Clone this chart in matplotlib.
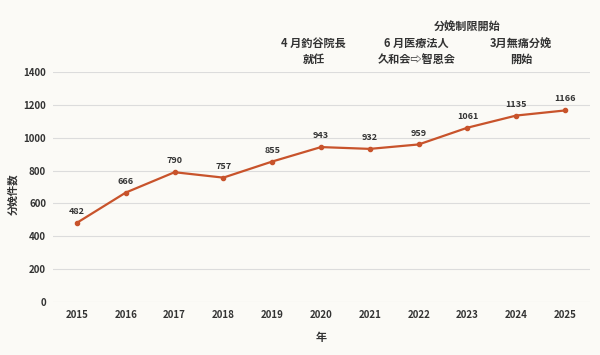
import matplotlib
matplotlib.use("Agg")
import matplotlib.pyplot as plt

plt.rcParams['font.family'] = ['Noto Sans CJK JP', 'DejaVu Sans']

years = [2015, 2016, 2017, 2018, 2019, 2020, 2021, 2022, 2023, 2024, 2025]
counts = [482, 666, 790, 757, 855, 943, 932, 959, 1061, 1135, 1166]
yticks = [0, 200, 400, 600, 800, 1000, 1200, 1400]

events = [
    (2019.85, "4 月釣谷院長\n就任"),
    (2021.95, "6 月医療法人\n久和会⇨智恩会"),
    (2024.1, "3月無痛分娩\n開始"),
]
top_event = (2023.0, "分娩制限開始")

bg = '#fbfaf6'
line_color = '#c8532b'
text_color = '#333333'

fig = plt.figure(figsize=(6, 3.55), dpi=100, facecolor=bg)
ax = fig.add_axes([53/600, 53/355, 537/600, 230/355], facecolor=bg)

ax.plot(years, counts, color=line_color, lw=1.6, marker='o', ms=3, zorder=3)
for x, y in zip(years, counts):
    ax.annotate(str(y), (x, y), xytext=(0, 5), textcoords='offset points',
                ha='center', va='bottom', fontsize=6.5, color=text_color,
                fontweight='bold')

ax.set_xlim(2014.51, 2025.51)
ax.set_ylim(0, 1400)
ax.set_yticks(yticks)
ax.set_xticks(years)
ax.set_xticklabels([str(y) for y in years])
ax.tick_params(axis='both', length=0, labelsize=7, labelcolor=text_color)
for lab in ax.get_xticklabels() + ax.get_yticklabels():
    lab.set_fontweight('bold')
ax.tick_params(axis='x', pad=6)
ax.tick_params(axis='y', pad=5)
ax.grid(axis='y', color='#dcdcdc', lw=0.8)
ax.set_axisbelow(True)
for s in ax.spines.values():
    s.set_visible(False)

ax.set_xlabel("年", fontsize=8, fontweight='bold', color=text_color, labelpad=8)
ax.set_ylabel("分娩件数", fontsize=7.5, fontweight='bold', color=text_color)
ax.yaxis.set_label_coords(-0.065, 0.47)

for x, t in events:
    ax.text(x, 1525, t, ha='center', va='center', fontsize=8, fontweight='bold',
            color=text_color, linespacing=1.3)
ax.text(top_event[0], 1670, top_event[1], ha='center', va='center', fontsize=8,
        fontweight='bold', color=text_color)

fig.savefig("out.png", dpi=100, facecolor=bg)
